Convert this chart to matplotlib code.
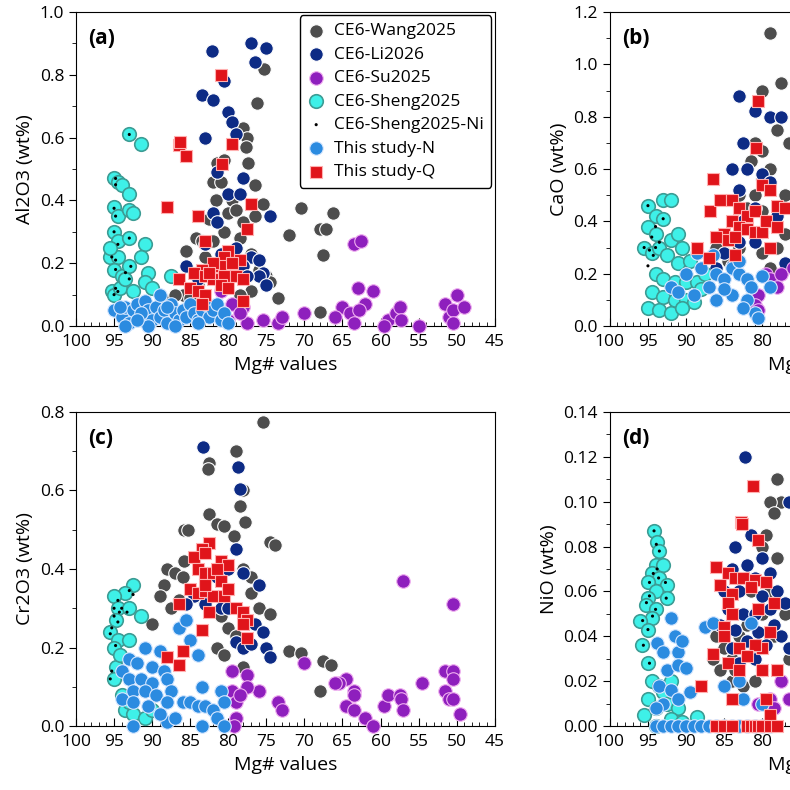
import numpy as np
import matplotlib.pyplot as plt
from matplotlib.ticker import MultipleLocator, FormatStrFormatter

plt.rcParams['font.family'] = ['Open Sans', 'DejaVu Sans']

# ---- panel (a) Al2O3 ----
a_wang = [(75.3,0.82),(76.2,0.71),(78,0.63),(77.5,0.6),(77.7,0.57),(77.4,0.52),(81.5,0.52),(80.5,0.53),(82,0.46),(81,0.46),
          (76.5,0.45),(75.5,0.39),(81.6,0.4),(79.5,0.40),(80,0.36),(79,0.37),(78,0.33),(76.5,0.35),(80.5,0.3),(78.5,0.28),
          (84.3,0.28),(83.5,0.27),(82,0.27),(85.5,0.24),(83,0.22),(77,0.23),(79,0.21),(76,0.18),(75,0.16),(74.5,0.14),
          (77,0.11),(73.5,0.09),(70.5,0.375),(72,0.29),(68,0.31),(67.2,0.31),(66.3,0.36),(67.5,0.225),(68,0.045),(86,0.1),
          (85,0.09),(84,0.13),(81,0.12),(88,0.08),(87,0.1),(82.5,0.34),(80,0.2),(78.5,0.1)]
a_li = [(82.2,0.875),(77,0.90),(75,0.885),(76.5,0.84),(80.5,0.78),(83.5,0.735),(82,0.72),(80,0.68),(79.5,0.65),(79,0.61),
        (83,0.6),(81.5,0.49),(78,0.47),(80,0.42),(78.5,0.42),(82,0.36),(81.5,0.33),(74.5,0.35),(79,0.25),(77,0.22),
        (76,0.21),(75.5,0.17),(76,0.16),(75,0.13),(85.5,0.19),(84,0.15),(81,0.23),(78,0.19),(77.5,0.16),(83,0.26)]
a_su = [(63.5,0.26),(62.5,0.27),(63,0.12),(61,0.11),(62,0.07),(65,0.06),(64,0.04),(63.5,0.01),(66,0.03),(62.8,0.05),
        (59,0.02),(58,0.04),(57.5,0.06),(57.3,0.02),(59.5,0.0),(55,0.0),(51.5,0.07),(51,0.03),(50.5,0.05),(50,0.1),
        (49,0.06),(50.5,0.01),(70,0.04),(73.5,0.01),(73,0.03),(75.5,0.02),(77.5,0.01),(78,0.06),(79.5,0.07),(80,0.02),
        (81,0.11),(78.5,0.04)]
a_sheng = [(93,0.61),(91.5,0.58),(95,0.47),(94.5,0.46),(94,0.45),(93,0.42),(95,0.38),(94.5,0.35),(93,0.37),(92.5,0.36),
           (95,0.3),(94.5,0.27),(93,0.28),(91,0.26),(95.5,0.22),(94.5,0.22),(95,0.18),(94,0.16),(93,0.19),(91.5,0.22),
           (90.5,0.17),(87.5,0.16),(95.3,0.11),(95,0.1),(94.2,0.12),(92.5,0.11),(91,0.14),(90,0.12),(93.5,0.15),(95.5,0.25)]
a_ni = [(93,0.61),(94.8,0.47),(94.8,0.45),(95,0.375),(94.8,0.35),(95,0.3),(94.5,0.26),(93,0.28),(95.3,0.22),(94.8,0.21),
        (94.8,0.18),(93.5,0.17),(92.8,0.19),(93,0.15),(94.8,0.12),(95,0.1),(94.5,0.11)]
a_n = [(95,0.05),(94,0.03),(93.5,0.06),(93,0.01),(92.5,0.05),(92,0.07),(91.5,0.03),(91,0.08),(90.5,0.05),(90,0.02),
       (89.5,0.06),(89,0.1),(89,0.03),(88.5,0.05),(88,0.01),(87.5,0.07),(87,0.04),(86.5,0.02),(86,0.05),(85.5,0.03),
       (85,0.07),(84.5,0.04),(84,0.02),(83.5,0.05),(83,0.07),(82.5,0.03),(82,0.05),(81.5,0.07),(81,0.02),(80.5,0.04),
       (93.5,0.0),(90.5,0.0),(87,0.0),(84,0.01),(80,0.01),(91.5,0.04),(88,0.06),(94.2,0.06),(92,0.02)]
a_q = [(81,0.8),(86.5,0.575),(86.3,0.585),(85.5,0.54),(79.5,0.58),(80.8,0.515),(88,0.38),(77,0.39),(84,0.35),(77.5,0.31),
       (83,0.27),(80,0.24),(80.5,0.22),(78.5,0.21),(81,0.19),(82,0.2),(83.5,0.18),(84.5,0.17),(83,0.16),(82,0.15),
       (80.5,0.16),(79,0.16),(78,0.15),(86.5,0.15),(85,0.12),(84,0.11),(83,0.1),(83.5,0.07),(81,0.13),(80,0.12),
       (78,0.08),(82.5,0.17),(79.5,0.2)]

# ---- panel (b) CaO ----
b_wang = [(79,1.12),(77.5,0.93),(80,0.9),(81,0.7),(80,0.67),(79,0.6),(81.5,0.63),(80,0.56),(81,0.5),(83,0.5),
          (82,0.45),(80,0.44),(79,0.4),(81,0.35),(83,0.3),(85,0.32),(86,0.3),(84.5,0.25),(80,0.28),(78,0.3),
          (79,0.22),(77,0.5),(77,0.35),(76.5,0.7),(78,0.75)]
b_li = [(83,0.88),(81,0.82),(79,0.8),(77.5,0.8),(82.5,0.7),(84,0.6),(82,0.6),(80,0.58),(83,0.52),(79,0.55),
        (81,0.45),(82.5,0.4),(78,0.42),(80,0.36),(84,0.23),(86,0.22),(85,0.28),(81,0.32),(77,0.24),(83,0.32)]
b_su = [(79.5,0.2),(79,0.18),(80.5,0.12),(81,0.08),(80.5,0.06),(77.5,0.2),(78,0.15),(76,0.22),(70,0.1),(65,0.05)]
b_sheng = [(95,0.46),(93,0.48),(92,0.48),(94,0.42),(93,0.41),(95,0.38),(94,0.35),(95.5,0.3),(94.5,0.28),(93.5,0.3),
           (92,0.33),(91,0.35),(90.5,0.3),(92.5,0.27),(91,0.24),(89.5,0.25),(94,0.2),(93,0.18),(91.5,0.17),(90,0.17),
           (88.5,0.17),(87.5,0.2),(94.5,0.13),(93,0.11),(91.5,0.1),(90,0.1),(95,0.07),(93.5,0.06),(92,0.05),(89,0.09),
           (90.5,0.07),(88,0.14)]
b_ni = [(95,0.46),(94,0.38),(94.5,0.34),(93,0.41),(95.5,0.3),(94.8,0.29),(94,0.3),(93.5,0.32),(95,0.23),(94.3,0.27)]
b_n = [(88,0.22),(86,0.2),(85,0.18),(84,0.22),(83,0.2),(82,0.18),(81.5,0.15),(82,0.1),(84,0.12),(81,0.05),
       (80.5,0.03),(85,0.14),(83,0.25),(87,0.15),(86,0.1),(89,0.12),(92,0.15),(90,0.2),(91,0.13),(88.5,0.28),
       (86.5,0.27),(80,0.19),(79,0.15),(82.5,0.07)]
b_q = [(80.5,0.86),(80.8,0.68),(86.5,0.56),(86.8,0.44),(85.5,0.48),(84,0.48),(83,0.45),(82,0.42),(81,0.44),(80,0.54),
       (79,0.52),(78,0.46),(84,0.4),(83,0.38),(82,0.37),(81,0.36),(80,0.36),(79.5,0.4),(85,0.35),(84.5,0.33),
       (83.5,0.34),(86,0.34),(88.5,0.3),(87,0.26),(83.5,0.27),(78,0.38),(77,0.45),(79,0.3)]

# ---- panel (c) Cr2O3 ----
c_wang = [(75.5,0.775),(79,0.7),(82.5,0.67),(82.7,0.655),(78.5,0.56),(78,0.6),(77.8,0.52),(82.5,0.54),(81.5,0.515),(80.5,0.51),
          (85.8,0.5),(85.3,0.5),(79.2,0.485),(74.5,0.47),(73.8,0.46),(88,0.4),(87,0.39),(85.8,0.42),(88.5,0.36),(89,0.33),
          (87.5,0.3),(86,0.38),(78,0.4),(77,0.38),(77,0.34),(76,0.3),(74.5,0.285),(81,0.28),(80,0.25),(79,0.23),
          (81.5,0.2),(80.5,0.18),(78,0.15),(72,0.19),(70.5,0.185),(67.5,0.165),(66.5,0.155),(68,0.09),(90,0.26),(86.5,0.32),
          (84,0.33)]
c_li = [(83.3,0.71),(78.7,0.66),(78.5,0.605),(79,0.45),(78,0.39),(76,0.36),(84.5,0.33),(83,0.31),(81,0.3),(80,0.3),
        (76.5,0.26),(75.5,0.24),(75,0.2),(74.5,0.175),(79,0.215),(78,0.2),(77,0.21),(85.5,0.31),(81.5,0.38),(80,0.4)]
c_su = [(57,0.37),(50.5,0.31),(70,0.16),(64.5,0.12),(65.5,0.11),(66,0.11),(63.5,0.09),(63.5,0.08),(64.5,0.05),(63.5,0.04),
        (62,0.02),(61,0.0),(59.5,0.05),(59,0.08),(57.5,0.08),(57.3,0.07),(57,0.04),(54.5,0.11),(51.5,0.14),(50.5,0.14),
        (50.5,0.12),(51.5,0.09),(51,0.07),(50.5,0.07),(49.5,0.03),(73.5,0.06),(73,0.04),(76,0.09),(77.5,0.13),(77.5,0.1),
        (79.5,0.14),(79.5,0.09),(79,0.06),(79,0.02),(79.2,0.0),(78.5,0.08)]
c_sheng = [(92.5,0.36),(93.5,0.34),(95,0.33),(94.5,0.3),(93,0.3),(94.8,0.27),(95.5,0.24),(94.5,0.22),(93,0.22),(91.5,0.28),
           (95,0.2),(94.8,0.15),(95,0.12),(94,0.08),(93.5,0.04),(92.5,0.03),(91,0.02),(90,0.04),(93,0.06),(94.2,0.18)]
c_ni = [(93,0.345),(92.5,0.335),(94.5,0.32),(94,0.3),(95,0.3),(94.3,0.29),(93.3,0.29),(95,0.28),(94.5,0.265),(95.3,0.25),
        (95.5,0.235),(94.8,0.205),(95.3,0.14),(95.5,0.12)]
c_n = [(86.5,0.25),(85.5,0.27),(85,0.22),(84,0.18),(91,0.2),(89,0.19),(93,0.17),(92,0.16),(90,0.15),(88.5,0.14),
       (94,0.14),(93,0.12),(91.5,0.12),(90,0.11),(88,0.12),(87.5,0.09),(92.5,0.09),(91,0.09),(89.5,0.08),(94,0.07),
       (92.5,0.06),(90.5,0.05),(88,0.06),(86,0.06),(85,0.06),(84,0.05),(83,0.05),(82,0.04),(81,0.09),(80.5,0.06),
       (83.5,0.1),(81.5,0.02),(80.5,0.0),(83.5,0.0),(88,0.01),(92.5,0.0),(89,0.03),(87,0.02)]
c_q = [(82.5,0.465),(83.5,0.45),(84.5,0.43),(83,0.44),(81,0.42),(80,0.41),(84,0.4),(83,0.39),(82,0.39),(81.5,0.4),
       (85,0.35),(84,0.34),(83,0.345),(82,0.33),(81,0.37),(80.5,0.33),(80,0.35),(86.5,0.31),(83,0.36),(82.5,0.29),
       (79,0.3),(78,0.29),(77.5,0.27),(78,0.26),(77.5,0.225),(83.5,0.245),(86,0.19),(88,0.175),(86.5,0.155)]

# ---- panel (d) NiO ----
d_wang = [(78,0.11),(77.5,0.10),(79,0.1),(78.5,0.095),(79.5,0.085),(80,0.08),(78,0.075),(85,0.035),(86.5,0.03),(85.5,0.025),
          (84,0.03),(83,0.04),(84,0.02),(82.5,0.018),(81,0.02),(80,0.05),(79,0.06),(77,0.05),(82,0.045),(80.5,0.035),
          (83.5,0.025),(76.5,0.03),(78.5,0.04),(86,0.04),(81.5,0.06)]
d_li = [(82.2,0.12),(76.5,0.1),(81.5,0.085),(83.5,0.08),(80,0.075),(82,0.072),(84,0.07),(81,0.066),(79,0.068),(83,0.06),
        (85,0.06),(80,0.058),(78,0.06),(84.5,0.052),(82.5,0.05),(81,0.05),(79,0.052),(77,0.055),(85.5,0.045),(83.5,0.043),
        (80.5,0.042),(78.5,0.045),(82,0.038),(79.5,0.036),(77.5,0.04),(84,0.035),(81,0.03),(83,0.028),(76.5,0.035),(80,0.025)]
d_su = [(79,0.012),(78.5,0.008),(77.5,0.02),(76.5,0.012),(80.5,0.01)]
d_sheng = [(94.2,0.087),(93.8,0.082),(93.5,0.078),(94,0.072),(93,0.072),(94.5,0.068),(93.5,0.066),(95,0.064),(92.5,0.063),(94,0.06),
           (95,0.057),(92.5,0.057),(95.3,0.054),(94,0.052),(94.5,0.048),(96,0.047),(95,0.043),(95.8,0.036),(95,0.028),(94.5,0.02),
           (93.5,0.018),(92,0.02),(93,0.015),(95,0.012),(94,0.008),(92.5,0.01),(91,0.008),(95.5,0.005),(94,0.0),(92,0.003),
           (90.5,0.002),(88.5,0.004)]
d_ni = [(94.2,0.087),(93.9,0.081),(93.5,0.078),(94.3,0.068),(93.6,0.066),(94.8,0.064),(92.7,0.064),(93.8,0.07),(94.8,0.058),(92.6,0.057),
        (95.2,0.055),(94,0.052),(94.4,0.049),(95.7,0.047),(95,0.043),(95.6,0.036),(94.8,0.028)]
d_n = [(92,0.048),(91.5,0.04),(93.8,0.037),(93,0.033),(91,0.033),(90.5,0.038),(87.5,0.044),(86.5,0.046),(92.5,0.025),(91,0.027),
       (90,0.026),(93.5,0.018),(92,0.016),(91,0.012),(89.5,0.015),(93,0.01),(94,0.008),(81.5,0.046),(83,0.02),(82.5,0.012),
       (80,0.01),(85,0.018),(94,0.0),(93,0.0),(92,0.0),(91,0.0),(90,0.0),(89,0.0),(88,0.0),(87,0.0),
       (86,0.0),(85,0.0),(84,0.0),(83,0.0),(82,0.0),(81,0.0),(80,0.0),(79,0.0)]
d_q = [(81.2,0.107),(82.8,0.091),(82.6,0.09),(80.5,0.083),(86,0.071),(84.5,0.068),(83.5,0.066),(82.5,0.066),(81,0.065),(79.5,0.064),
       (85.5,0.063),(84,0.059),(81.5,0.062),(84.5,0.055),(78.5,0.055),(84,0.05),(80.5,0.052),(85,0.044),(85,0.04),(83,0.035),
       (80,0.035),(81,0.036),(82,0.031),(79,0.042),(84.5,0.028),(83,0.025),(80,0.025),(78,0.025),(88,0.018),(84,0.012),
       (79.5,0.012),(79,0.005),(86.5,0.032),(86,0.0),(85,0.0),(84,0.0),(82,0.0),(81.5,0.0),(81,0.0),(80.5,0.0),
       (80,0.0),(79,0.0),(78,0.0)]

names = ['CE6-Wang2025', 'CE6-Li2026', 'CE6-Su2025', 'CE6-Sheng2025', 'CE6-Sheng2025-Ni', 'This study-N', 'This study-Q']
styles = [
    dict(marker='o', s=95, c='#4d4d4d', edgecolors='white', linewidths=0.8),
    dict(marker='o', s=95, c='#0d2b85', edgecolors='white', linewidths=0.8),
    dict(marker='o', s=95, c='#8e1fbd', edgecolors='#f0b0f0', linewidths=0.8),
    dict(marker='o', s=95, c='#3ef0e8', edgecolors='#3c9c94', linewidths=1.2),
    dict(marker='o', s=5, c='black', edgecolors='none', linewidths=0),
    dict(marker='o', s=95, c='#2b8be0', edgecolors='#d8e8ff', linewidths=0.8),
    dict(marker='s', s=70, c='#e0141a', edgecolors='#ffb0b0', linewidths=0.8),
]

panels = [
    ('(a)', 'Al2O3 (wt%)', (0, 1.0), 0.2, 0.1, '%.1f', [a_wang, a_li, a_su, a_sheng, a_ni, a_n, a_q], [0.0962, 0.5873]),
    ('(b)', 'CaO (wt%)', (0, 1.2), 0.2, 0.1, '%.1f', [b_wang, b_li, b_su, b_sheng, b_ni, b_n, b_q], [0.772, 0.5873]),
    ('(c)', 'Cr2O3 (wt%)', (0, 0.8), 0.2, 0.1, '%.1f', [c_wang, c_li, c_su, c_sheng, c_ni, c_n, c_q], [0.0962, 0.081]),
    ('(d)', 'NiO (wt%)', (0, 0.14), 0.02, 0.01, '%.2f', [d_wang, d_li, d_su, d_sheng, d_ni, d_n, d_q], [0.772, 0.081]),
]

fig = plt.figure(figsize=(7.9, 7.9), dpi=100)
for label, ylab, ylim, major, minor, fmt, series, (left, bottom) in panels:
    ax = fig.add_axes([left, bottom, 0.530, 0.3975])
    for name, st, pts in zip(names, styles, series):
        arr = np.array(pts)
        ax.scatter(arr[:, 0], arr[:, 1], label=name, clip_on=False, zorder=3, **st)
    ax.set_xlim(100, 45)
    ax.set_ylim(*ylim)
    ax.xaxis.set_major_locator(MultipleLocator(5))
    ax.xaxis.set_minor_locator(MultipleLocator(1))
    ax.yaxis.set_major_locator(MultipleLocator(major))
    ax.yaxis.set_minor_locator(MultipleLocator(minor))
    ax.yaxis.set_major_formatter(FormatStrFormatter(fmt))
    ax.tick_params(axis='x', which='both', direction='in', labelsize=12.5, pad=6)
    ax.tick_params(axis='x', which='major', length=6)
    ax.tick_params(axis='x', which='minor', length=3)
    ax.tick_params(axis='y', which='both', direction='out', labelsize=12.5)
    ax.tick_params(axis='y', which='major', length=5)
    ax.tick_params(axis='y', which='minor', length=3)
    ax.set_xlabel('Mg# values', fontsize=14)
    ax.set_ylabel(ylab, fontsize=14)
    ax.text(0.03, 0.95, label, transform=ax.transAxes, fontsize=15, fontweight='bold', va='top')
    if label == '(a)':
        leg = ax.legend(loc='upper right', fontsize=12.5, frameon=True, fancybox=True, framealpha=1,
                        edgecolor='black', handlelength=1.0, handletextpad=0.5, borderpad=0.45,
                        labelspacing=0.42, borderaxespad=0.2)
        leg.get_frame().set_linewidth(1.0)

fig.savefig('out.png', dpi=100)
